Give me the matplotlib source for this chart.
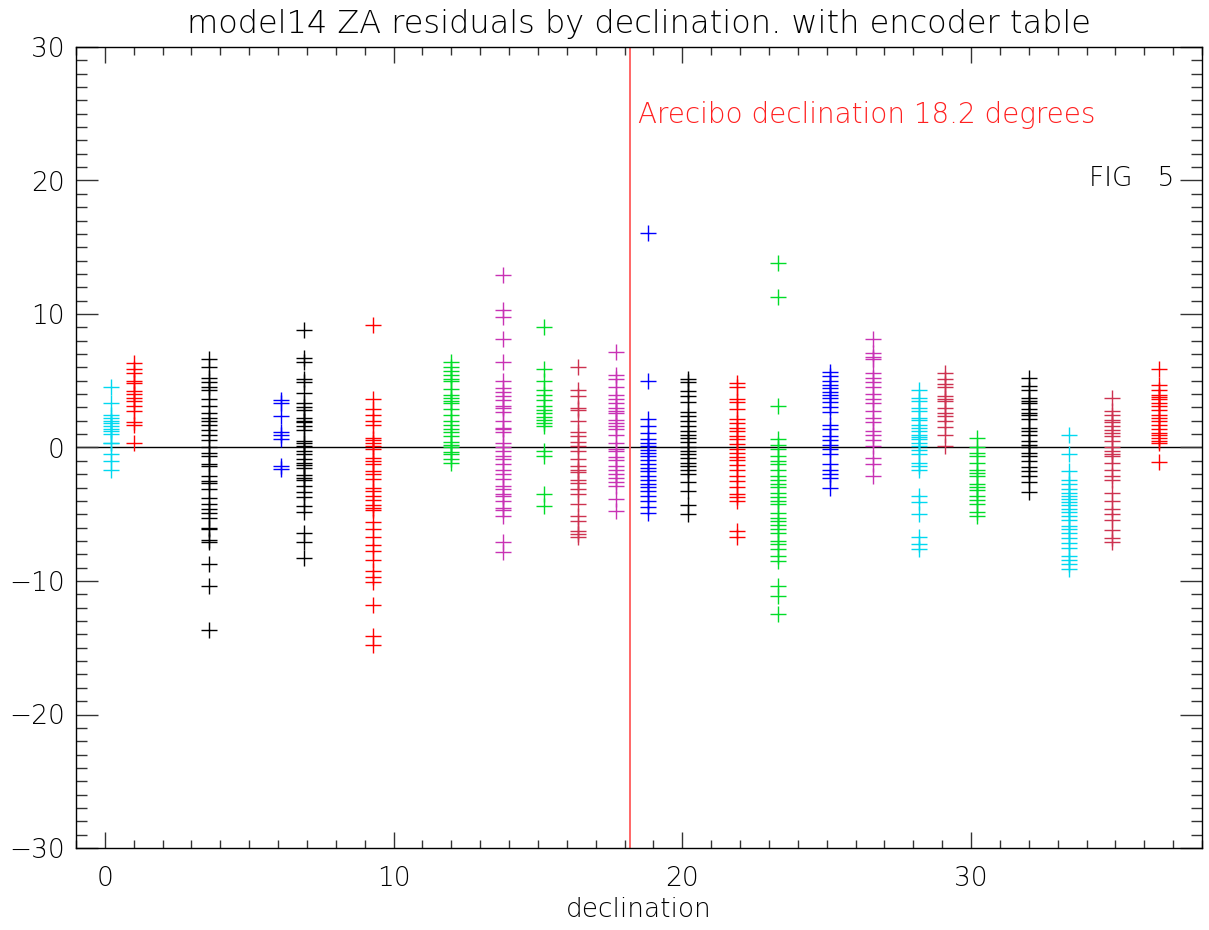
import matplotlib
matplotlib.use("Agg")
import matplotlib.pyplot as plt
from matplotlib.ticker import MultipleLocator

# declination of each source column, its colour and the ZA residuals (arcsec)
decs = [0.2, 1.0, 3.6, 6.1, 6.9, 9.3, 12.0, 13.8, 15.2, 16.4, 17.7, 18.8,
        20.2, 21.9, 23.3, 25.1, 26.6, 28.2, 29.1, 30.2, 32.0, 33.4, 34.9, 36.5]
colors = ["#00d8f0", "#ff0000", "#000000", "#0000ff", "#000000", "#ff0000",
          "#00dd28", "#c832b4", "#00dd28", "#cd3250", "#c832b4", "#0000ff",
          "#000000", "#ff0000", "#00dd28", "#0000ff", "#c832b4", "#00d8f0",
          "#cd3250", "#00dd28", "#000000", "#00d8f0", "#cd3250", "#ff0000"]
za_resid = [
    [4.5, 3.3, 2.4, 2.2, 2.0, 1.8, 1.6, 1.4, 1.2, 1.0, 0.35, 0.3, -0.5, -1.0, -1.65],
    [6.3, 5.9, 5.6, 5.0, 4.8, 4.2, 4.0, 3.7, 3.5, 3.1, 2.7, 1.9, 1.7, 0.3],
    [6.6, 6.0, 5.2, 4.9, 4.5, 4.3, 3.6, 3.1, 2.6, 2.2, 2.0, 1.65, 1.3, 0.97, 0.55,
     0.0, -0.4, -0.65, -1.27, -1.4, -2.14, -2.5, -2.64, -3.14, -3.8, -4.26, -4.64,
     -4.9, -5.26, -6.0, -6.1, -6.93, -7.1, -8.75, -10.4, -13.7],
    [3.54, 3.34, 2.34, 1.15, 0.9, 0.65, -1.35, -1.6],
    [8.8, 6.7, 6.4, 5.1, 4.9, 4.1, 3.3, 3.0, 2.8, 2.2, 2.0, 1.9, 1.6, 1.3, 0.47, 0.3,
     0.1, -0.27, -0.52, -0.85, -1.15, -1.32, -1.52, -2.07, -2.27, -2.44, -2.9, -3.34,
     -3.7, -4.4, -4.84, -6.4, -7.1, -8.3],
    [9.2, 3.66, 2.9, 2.4, 2.0, 1.65, 0.72, 0.55, 0.35, 0.1, -0.1, -0.77, -1.0, -1.2,
     -1.77, -2.0, -2.34, -3.0, -3.27, -3.64, -3.9, -4.34, -4.5, -4.7, -5.6, -6.1,
     -6.7, -7.3, -7.75, -8.4, -9.25, -9.7, -10.1, -11.8, -14.1, -14.8],
    [6.4, 6.0, 5.7, 5.46, 5.1, 4.96, 4.4, 3.96, 3.7, 3.47, 3.3, 2.9, 2.47, 2.0, 1.72,
     1.42, 1.15, 0.85, 0.4, 0.22, 0.0, -0.32, -0.52, -0.85, -1.15],
    [12.9, 10.3, 9.8, 8.1, 6.4, 4.96, 4.46, 4.14, 3.84, 3.54, 3.1, 2.97, 2.64, 2.0,
     1.47, 1.35, 1.15, 0.35, 0.0, -0.27, -0.65, -0.85, -1.2, -1.65, -2.0, -2.34,
     -2.9, -3.14, -3.5, -3.64, -4.0, -4.5, -4.7, -5.1, -7.1, -7.8],
    [9.0, 5.9, 4.96, 4.3, 3.9, 3.54, 3.14, 2.8, 2.6, 2.3, 2.04, 1.85, 1.6, -0.27,
     -0.65, -3.47, -4.4],
    [6.0, 4.34, 3.84, 2.97, 2.8, 2.0, 1.15, 0.85, 0.4, 0.1, -0.27, -0.85, -1.35,
     -1.65, -1.85, -2.44, -2.64, -3.1, -3.5, -4.26, -5.14, -5.5, -6.26, -6.5, -6.7],
    [7.16, 5.4, 5.1, 4.5, 3.9, 3.6, 3.34, 2.97, 2.72, 2.6, 2.04, 1.8, 1.6, 1.35, 0.97,
     0.35, -0.1, -0.27, -0.7, -0.9, -1.35, -1.65, -1.95, -2.27, -2.6, -2.9, -3.84,
     -4.76],
    [16.1, 4.96, 2.1, 1.6, 1.05, 0.6, 0.3, 0.1, -0.2, -0.4, -0.6, -0.95, -1.27, -1.52,
     -1.77, -2.1, -2.4, -2.7, -2.94, -3.27, -3.64, -4.0, -4.44, -4.94],
    [5.1, 4.9, 4.2, 3.84, 3.4, 2.64, 2.34, 2.02, 1.6, 1.22, 0.97, 0.72, 0.4, 0.05,
     -0.27, -0.52, -0.77, -1.15, -1.4, -1.7, -1.95, -2.6, -3.27, -4.34, -5.0],
    [4.84, 4.54, 3.6, 3.4, 2.9, 2.1, 1.8, 1.47, 1.22, 0.85, 0.6, 0.27, -0.1, -0.4,
     -0.7, -0.95, -1.32, -1.7, -2.14, -2.52, -2.94, -3.52, -3.7, -4.0, -6.26, -6.7],
    [13.8, 11.3, 3.1, 0.65, 0.22, -0.1, -0.65, -1.0, -1.27, -1.7, -2.1, -2.4, -2.7,
     -2.94, -3.4, -3.7, -4.0, -4.2, -4.94, -5.26, -5.5, -5.83, -6.13, -6.43, -7.0,
     -7.26, -7.63, -8.13, -8.5, -10.4, -11.1, -12.5],
    [5.63, 5.33, 4.96, 4.7, 4.46, 4.14, 3.96, 3.7, 3.4, 3.04, 2.64, 1.65, 1.4, 0.85,
     0.55, 0.22, -0.1, -0.52, -1.27, -1.65, -1.95, -2.27, -3.0],
    [8.1, 7.1, 6.8, 6.6, 5.6, 5.2, 4.9, 4.54, 4.04, 3.64, 3.3, 2.72, 2.22, 1.9, 1.22,
     0.97, 0.55, 0.1, -0.77, -1.27, -2.14],
    [4.3, 3.7, 3.46, 2.97, 2.72, 2.22, 2.04, 1.72, 1.47, 1.22, 0.97, 0.8, 0.6, 0.35,
     0.1, -0.15, -0.45, -1.15, -1.35, -1.7, -3.6, -4.1, -5.0, -6.7, -7.2, -7.6],
    [5.6, 5.1, 4.76, 4.5, 3.84, 3.64, 3.46, 2.97, 2.6, 2.34, 1.97, 1.52, 0.92, 0.1],
    [0.72, 0.0, -0.4, -0.65, -1.15, -1.7, -1.9, -2.14, -2.7, -2.94, -3.2, -3.64,
     -3.9, -4.26, -4.84, -5.14],
    [5.2, 4.6, 4.34, 3.7, 3.46, 3.3, 2.9, 2.6, 2.4, 2.14, 1.47, 1.22, 0.9, 0.47, 0.22,
     0.0, -0.4, -0.65, -1.0, -1.45, -1.77, -2.14, -2.6, -3.34],
    [0.97, -0.52, -1.77, -2.4, -2.77, -3.1, -3.44, -3.64, -3.84, -4.1, -4.34, -4.6,
     -4.84, -5.14, -5.4, -5.9, -6.13, -6.4, -6.76, -7.13, -7.5, -8.1, -8.4, -8.75,
     -9.1],
    [3.7, 2.72, 2.47, 2.04, 1.9, 1.6, 1.3, 1.1, 0.85, 0.47, 0.0, -0.27, -0.45, -0.65,
     -1.15, -1.72, -2.1, -2.44, -3.4, -4.0, -4.6, -5.0, -5.4, -6.2, -6.8, -7.1],
    [5.9, 4.7, 4.34, 3.96, 3.76, 3.6, 3.34, 3.14, 2.84, 2.47, 2.22, 1.97, 1.65, 1.35,
     1.1, 0.9, 0.72, 0.47, 0.3, -1.05],
]
arecibo_dec = 18.2

plt.rcParams['font.family'] = ['DejaVu Sans']

fig = plt.figure(figsize=(12.09, 9.30), dpi=100)
ax = fig.add_axes([76 / 1209, 82 / 930, 1126 / 1209, 801 / 930])

for dec, col, vals in zip(decs, colors, za_resid):
    ax.plot([dec] * len(vals), vals, '+', color=col, markersize=12.2,
            markeredgewidth=1.0, linestyle='none')

ax.axhline(0, color='black', linewidth=1.0, zorder=1)
ax.axvline(arecibo_dec, color='#ff5a5a', linewidth=1.3, zorder=1)
ax.text(18.48, 24.3, 'Arecibo declination %.1f degrees' % arecibo_dec,
        color='#ff2020', fontsize=20, fontweight='light')
ax.text(34.1, 19.6, 'FIG   5', color='black', fontsize=19, fontweight='light')

ax.set_xlim(-1, 38)
ax.set_ylim(-30, 30)
ax.xaxis.set_major_locator(MultipleLocator(10))
ax.xaxis.set_minor_locator(MultipleLocator(1))
ax.yaxis.set_major_locator(MultipleLocator(10))
ax.yaxis.set_minor_locator(MultipleLocator(1))
ax.tick_params(axis='both', which='both', direction='in', top=True, right=True,
               color='#333333', width=1.0, labelsize=19)
ax.tick_params(axis='x', which='major', length=11.5, pad=13)
ax.tick_params(axis='x', which='minor', length=5.8)
ax.tick_params(axis='y', which='major', length=15.8, pad=8)
ax.tick_params(axis='y', which='minor', length=7.9)
for lab in ax.get_xticklabels() + ax.get_yticklabels():
    lab.set_fontweight('light')
for sp in ax.spines.values():
    sp.set_linewidth(1.0)

ax.set_title('model14 ZA residuals by declination. with encoder table',
             fontsize=23, fontweight='light', pad=10)
ax.set_xlabel('declination', fontsize=19, fontweight='light', labelpad=4)

fig.savefig('out.png', dpi=100)
plt.close(fig)
